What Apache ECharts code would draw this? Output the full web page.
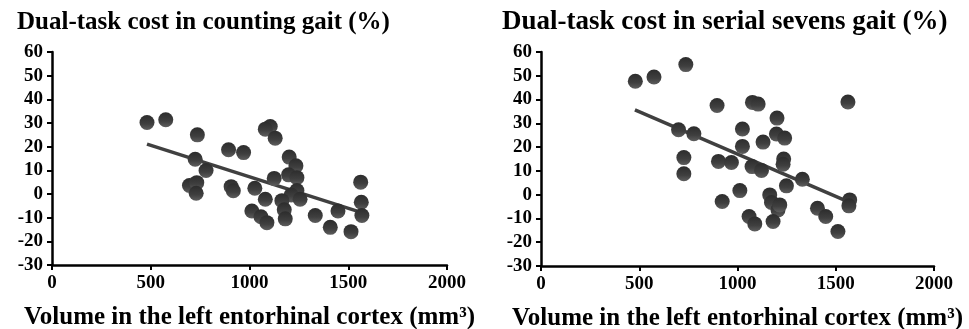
<!DOCTYPE html>
<html>
<head>
<meta charset="utf-8">
<script src="https://cdn.jsdelivr.net/npm/echarts@6/dist/echarts.min.js"></script>
<style>
  html, body { margin: 0; padding: 0; background: #fff; }
  #chart { width: 969px; height: 329px; }
</style>
</head>
<body>
<div id="chart"></div>
<script>
// counting gait: volume (mm3) vs dual-task cost (%)
const countingX = [481, 576, 736, 725, 780, 696, 733, 730, 894, 907, 918, 970, 1105, 1080, 1130, 1201, 1235, 1198, 1240, 1125,
  1027, 1240, 1211, 1080, 1164, 1256, 1176, 1181, 1012, 1058, 1088, 1333, 1409, 1448, 1514, 1563, 1566, 1569];
const countingY = [30.2, 31.4, 25.0, 14.7, 9.9, 3.6, 4.8, 0.3, 18.7, 3.1, 1.4, 17.5, 28.5, 27.4, 23.6, 15.6, 11.9, 8.1, 6.9, 6.6,
  2.4, 1.5, -0.4, -2.2, -2.8, -2.2, -6.7, -10.5, -7.2, -9.6, -12.1, -9.1, -14.1, -7.2, -15.9, 5.0, -3.5, -9.1];

// serial sevens gait
const sevensX = [480, 575, 737, 896, 700, 778, 727, 727, 903, 969, 922, 1076, 1105, 1201, 1025, 1198, 1240, 1130, 1025, 1235,
  1232, 1074, 1122, 1330, 1249, 1012, 1164, 1173, 1206, 1215, 1571, 1567, 1562, 1407, 1449, 1511, 1059, 1088, 1181];
const sevensY = [47.7, 49.5, 54.7, 37.5, 27.3, 25.6, 15.6, 8.8, 14.0, 13.5, -2.9, 38.8, 38.1, 32.2, 27.6, 25.5, 23.8, 22.1, 20.3, 15.0,
  12.8, 11.8, 10.2, 6.5, 3.7, 1.7, -0.1, -3.3, -6.4, -4.3, -2.2, -4.7, 39.0, -5.7, -9.2, -15.5, -9.2, -12.3, -11.3];

// trend line end points
const countingTrendX = [481, 1569];
const countingTrendY = [21.1, -7.9];
const sevensTrendX = [478, 1562];
const sevensTrendY = [35.7, -2.9];

const titles = ['Dual-task cost in counting gait (%)', 'Dual-task cost in serial sevens gait (%)'];
const xName = 'Volume in the left entorhinal cortex (mm\u00b3)';

const font = '"Liberation Serif", "Times New Roman", serif';

const zip = (xs, ys) => xs.map((x, i) => [x, ys[i]]);

const markerColor = {
  type: 'linear', x: 0, y: 0, x2: 0, y2: 1,
  colorStops: [{ offset: 0, color: '#2c2c2c' }, { offset: 0.6, color: '#3f3f3f' }, { offset: 1, color: '#5e5e5e' }]
};

const axisLine = { show: true, onZero: false, lineStyle: { color: '#000', width: 2.5 } };
const axisTick = { length: 5, inside: false, lineStyle: { color: '#000', width: 2 } };
const labelStyle = { color: '#000', fontFamily: font, fontWeight: 'bold', fontSize: 19, formatter: v => String(v) };

function xAxis(gridIndex) {
  return {
    type: 'value', gridIndex, min: 0, max: 2000, interval: 500,
    axisLine, axisTick, splitLine: { show: false },
    axisLabel: Object.assign({ margin: 9 }, labelStyle),
    name: xName, nameLocation: 'middle', nameGap: 40,
    nameTextStyle: { color: '#000', fontFamily: font, fontWeight: 'bold', fontSize: 25 }
  };
}

function yAxis(gridIndex) {
  return {
    type: 'value', gridIndex, min: -30, max: 60, interval: 10,
    axisLine, axisTick, splitLine: { show: false },
    axisLabel: Object.assign({ margin: 9 }, labelStyle)
  };
}

function scatter(idx, xs, ys) {
  return {
    type: 'scatter', xAxisIndex: idx, yAxisIndex: idx, z: 3,
    data: zip(xs, ys), symbolSize: 15,
    itemStyle: { color: markerColor, opacity: 1 }
  };
}

function trend(idx, xs, ys) {
  return {
    type: 'line', xAxisIndex: idx, yAxisIndex: idx, z: 2,
    data: zip(xs, ys), symbol: 'none',
    lineStyle: { color: '#404040', width: 3.5 }
  };
}

const chart = echarts.init(document.getElementById('chart'));
chart.setOption({
  animation: false,
  backgroundColor: '#fff',
  title: [
    { text: titles[0], left: 12, top: 5, textStyle: { color: '#000', fontFamily: font, fontWeight: 'bold', fontSize: 25 } },
    { text: titles[1], left: 497, top: 4, textStyle: { color: '#000', fontFamily: font, fontWeight: 'bold', fontSize: 27 } }
  ],
  grid: [
    { left: 52, top: 52, width: 395, height: 213, outerBoundsMode: 'none' },
    { left: 541, top: 52, width: 393, height: 214, outerBoundsMode: 'none' }
  ],
  xAxis: [xAxis(0), xAxis(1)],
  yAxis: [yAxis(0), yAxis(1)],
  series: [
    trend(0, countingTrendX, countingTrendY),
    scatter(0, countingX, countingY),
    trend(1, sevensTrendX, sevensTrendY),
    scatter(1, sevensX, sevensY)
  ]
});
</script>
</body>
</html>
